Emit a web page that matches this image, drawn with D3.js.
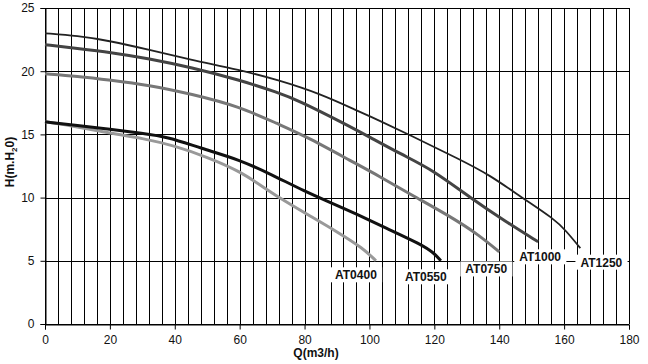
<!DOCTYPE html>
<html>
<head>
<meta charset="utf-8">
<script src="https://cdn.jsdelivr.net/npm/d3@7"></script>
<style>
  body { margin: 0; background: #fff; }
  svg { display: block; font-family: Arial, "Liberation Sans", sans-serif; }
</style>
</head>
<body>
<script>
// pump curves, Q (m3/h) vs H (m)
var pumps = ["AT0400", "AT0550", "AT0750", "AT1000", "AT1250"];

var at0400 = [[0,16],[10,15.6],[20,15.1],[30,14.7],[40,14.1],[50,13.2],[60,12.1],[68,10.7],[74,9.7],[82,8.5],[90,7.3],[98,6.0],[102,5.0]];
var at0550 = [[0,16],[10,15.7],[20,15.4],[30,15.1],[38,14.8],[48,13.9],[60,13.0],[70,11.8],[80,10.5],[88,9.6],[96,8.7],[105,7.6],[116,6.3],[120,5.6],[122,5.0]];
var at0750 = [[0,19.8],[10,19.6],[20,19.3],[32,18.9],[45,18.2],[60,17.2],[72,15.8],[80,14.9],[95,12.8],[103,11.7],[113,10.2],[125,8.5],[134,7.0],[140,5.7]];
var at1000 = [[0,22.1],[10,21.8],[20,21.5],[32,21.0],[45,20.3],[60,19.3],[72,18.3],[78,17.7],[92,15.9],[100,14.8],[110,13.4],[119.5,12.2],[131,10.0],[142,8.1],[152,6.5]];
var at1250 = [[0,23],[10,22.8],[20,22.4],[32,21.7],[45,20.9],[60,20.1],[72,19.3],[85,18.2],[96,16.9],[103,16.1],[112,15.0],[128,13.0],[137,11.8],[147,10.0],[157,8.3],[160.5,7.4],[165,6.0]];

var xTicks = [0, 20, 40, 60, 80, 100, 120, 140, 160, 180];
var yTicks = [0, 5, 10, 15, 20, 25];

var series = [at0400, at0550, at0750, at1000, at1250];
var colors = ["#999", "#111", "#777", "#444", "#222"];
var widths = [3, 3, 3, 3, 1.8];
var labelOffset = [[-20, 14], [-15, 16], [-13, 17], [2, 15], [21, 14]];

var width = 648, height = 364;
var margin = {left: 45, right: 19, top: 8, bottom: 40};

var x = d3.scaleLinear().domain([0, 180]).range([margin.left, width - margin.right]);
var y = d3.scaleLinear().domain([0, 25]).range([height - margin.bottom, margin.top]);

var svg = d3.select("body").append("svg").attr("width", width).attr("height", height);

// grid
var grid = svg.append("g").attr("shape-rendering", "crispEdges");
grid.selectAll(".vg").data(d3.range(0, 181, 4)).enter().append("line")
  .attr("x1", function(d){ return Math.round(x(d)) + 0.5; })
  .attr("x2", function(d){ return Math.round(x(d)) + 0.5; })
  .attr("y1", y(25)).attr("y2", y(0))
  .attr("stroke", "#000");
grid.selectAll(".hg").data(yTicks).enter().append("line")
  .attr("y1", function(d){ return Math.round(y(d)) + 0.5; })
  .attr("y2", function(d){ return Math.round(y(d)) + 0.5; })
  .attr("x1", x(0)).attr("x2", x(180))
  .attr("stroke", "#000");

// axes
var xAxis = svg.append("g").attr("transform", "translate(0," + (Math.round(y(0)) + 0.5) + ")")
  .call(d3.axisBottom(x).tickValues(xTicks).tickSize(5).tickPadding(6));
var yAxis = svg.append("g").attr("transform", "translate(" + (Math.round(x(0)) + 0.5) + ",0)")
  .call(d3.axisLeft(y).tickValues(yTicks).tickSize(5).tickPadding(6));
[xAxis, yAxis].forEach(function(a){
  a.selectAll("text").attr("font-size", 12).attr("font-family", "Arial, 'Liberation Sans', sans-serif").attr("fill", "#111");
  a.selectAll("line, path").attr("stroke", "#000");
});

// curves
var line = d3.line().x(function(d){ return x(d[0]); }).y(function(d){ return y(d[1]); }).curve(d3.curveBasis);
svg.selectAll(".curve").data(series).enter().append("path")
  .attr("d", line)
  .attr("fill", "none")
  .attr("stroke", function(d, i){ return colors[i]; })
  .attr("stroke-width", function(d, i){ return widths[i]; })
  .attr("stroke-linejoin", "round");

// labels
series.forEach(function(s, i){
  var end = s[s.length - 1];
  var cx = x(end[0]) + labelOffset[i][0], cy = y(end[1]) + labelOffset[i][1];
  var g = svg.append("g");
  var t = g.append("text").attr("x", cx).attr("y", cy + 4.5)
    .attr("text-anchor", "middle").attr("font-size", 12).attr("font-weight", "bold")
    .attr("fill", "#111").text(pumps[i]);
  var bb = t.node().getBBox();
  g.insert("rect", "text").attr("x", bb.x - 5).attr("y", cy - 7.5)
    .attr("width", bb.width + 10).attr("height", 15).attr("fill", "#fff");
});

// axis titles
svg.append("text").attr("x", 316).attr("y", 357).attr("text-anchor", "middle")
  .attr("font-size", 12).attr("font-weight", "bold").attr("fill", "#111").text("Q(m3/h)");
var yt = svg.append("text").attr("transform", "translate(14,162) rotate(-90)").attr("text-anchor", "middle")
  .attr("font-size", 12).attr("font-weight", "bold").attr("fill", "#111");
yt.append("tspan").text("H(m.H");
yt.append("tspan").attr("font-size", 8).attr("dy", 3).text("2");
yt.append("tspan").attr("dy", -3).text("0)");
</script>
</body>
</html>
